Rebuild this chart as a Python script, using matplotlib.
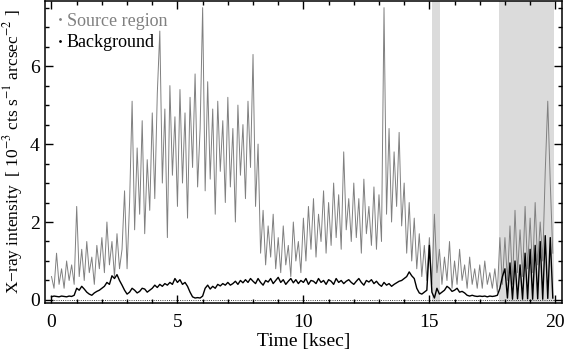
import numpy as np
import matplotlib
matplotlib.use("Agg")
import matplotlib.pyplot as plt
from matplotlib.lines import Line2D
from matplotlib.ticker import MultipleLocator

plt.rcParams['font.family'] = ['Liberation Serif', 'DejaVu Serif']
plt.rcParams['mathtext.fontset'] = 'stix'

# light curve, 0.1 ksec bins, one row per ksec
t_start = 0.0
t_bin = 0.1
source = [
    0.6, 0.3, 1.2, 0.4, 0.8, 0.3, 1.0, 0.5, 0.9, 0.4,
    2.4, 0.6, 1.3, 0.5, 1.5, 0.7, 1.1, 0.4, 1.4, 0.8,
    1.6, 0.7, 2.0, 0.9, 1.5, 0.6, 1.7, 0.8, 1.3, 2.8,
    0.8, 2.5, 5.1, 1.8, 3.9, 2.2, 4.6, 1.7, 3.6, 2.3,
    4.8, 2.6, 5.3, 6.9, 3.0, 4.9, 1.6, 5.5, 3.2, 4.7,
    2.4, 5.4, 3.0, 4.8, 2.1, 5.2, 3.4, 5.8, 2.9, 4.4,
    7.5, 2.8, 5.6, 3.1, 4.9, 2.2, 5.1, 3.3, 4.6, 2.5,
    5.2, 2.9, 4.4, 2.0, 5.0, 3.2, 4.5, 2.6, 5.1, 3.4,
    6.3, 2.4, 4.0, 1.2, 2.3, 0.9, 1.9, 1.1, 2.2, 0.8,
    1.6, 0.7, 1.9, 0.9, 1.4, 0.6, 2.0, 1.0, 1.5, 0.7,
    2.1, 1.0, 2.4, 1.3, 2.6, 1.1, 2.2, 1.5, 2.8, 1.2,
    2.5, 1.4, 3.0, 1.6, 2.7, 1.3, 3.8, 1.8, 2.6, 1.5,
    3.0, 1.6, 2.6, 1.2, 3.1, 1.7, 2.4, 1.4, 2.9, 1.3,
    2.7, 1.5, 7.5, 2.2, 4.4, 2.0, 3.8, 2.4, 4.3, 1.9,
    3.0, 1.2, 2.5, 1.0, 2.1, 0.8, 1.7, 0.6, 1.4, 0.5,
    1.6, 0.4, 2.2, 0.7, 1.3, 0.4, 1.1, 0.5, 1.5, 0.3,
    1.0, 0.4, 1.3, 0.5, 0.9, 0.3, 1.1, 0.4, 0.8, 0.3,
    0.9, 0.3, 1.0, 0.4, 0.7, 0.3, 0.8, 0.2, 1.6, 0.4,
    1.6, 0.5, 1.9, 0.4, 2.3, 0.7, 1.8, 0.6, 2.4, 0.8,
    2.1, 0.7, 2.5, 0.9, 2.0, 1.0, 3.3, 5.1, 3.0, 1.2,
]
background = [
    0.08, 0.10, 0.09, 0.08, 0.10, 0.09, 0.08, 0.10, 0.09, 0.12,
    0.30, 0.25, 0.35, 0.28, 0.20, 0.15, 0.12, 0.18, 0.22, 0.25,
    0.30, 0.35, 0.45, 0.40, 0.62, 0.55, 0.65, 0.50, 0.38, 0.25,
    0.15, 0.20, 0.30, 0.25, 0.18, 0.22, 0.30, 0.28, 0.20, 0.25,
    0.30, 0.38, 0.32, 0.40, 0.35, 0.42, 0.38, 0.45, 0.40, 0.55,
    0.45, 0.52, 0.40, 0.45, 0.35, 0.20, 0.08, 0.05, 0.06, 0.05,
    0.10, 0.30, 0.38, 0.28, 0.35, 0.30, 0.40, 0.36, 0.42, 0.38,
    0.45, 0.38, 0.42, 0.48, 0.40, 0.50, 0.44, 0.52, 0.45, 0.55,
    0.48, 0.42, 0.55, 0.45, 0.38, 0.50, 0.46, 0.55, 0.42, 0.50,
    0.58, 0.45, 0.52, 0.40, 0.48, 0.55, 0.44, 0.52, 0.42, 0.50,
    0.45, 0.55, 0.40, 0.50, 0.48, 0.42, 0.55, 0.45, 0.50, 0.40,
    0.52, 0.48, 0.40, 0.55, 0.45, 0.50, 0.42, 0.48, 0.52, 0.45,
    0.40, 0.48, 0.55, 0.45, 0.38, 0.50, 0.46, 0.52, 0.42, 0.48,
    0.40, 0.35, 0.45, 0.38, 0.42, 0.35, 0.40, 0.44, 0.48, 0.50,
    0.55, 0.60, 0.72, 0.62, 0.55, 0.30, 0.18, 0.15, 0.20, 0.25,
    1.40, 0.20, 0.05, 0.30, 0.15, 0.20, 0.25, 0.35, 0.30, 0.22,
    0.25, 0.30, 0.20, 0.22, 0.18, 0.12, 0.10, 0.12, 0.10, 0.09,
    0.10, 0.09, 0.10, 0.08, 0.10, 0.09, 0.10, 0.12, 0.30, 0.60,
    0.80, 0.05, 0.95, 0.02, 1.00, 0.03, 0.90, 0.02, 1.20, 0.03,
    1.30, 0.02, 1.40, 0.03, 1.50, 0.02, 1.65, 0.04, 1.60, 0.05,
]
# excluded (flagged) intervals, ksec
bad_intervals = [(15.12, 15.44), (17.78, 19.96)]

time = t_start + t_bin * np.arange(len(source))

fig = plt.figure(figsize=(5.65, 3.52), dpi=100)
ax = fig.add_axes([0.08, 0.139, 0.914, 0.858])

for lo, hi in bad_intervals:
    ax.axvspan(lo, hi, color='0.86', lw=0, zorder=0)

ax.axhline(0, color='black', ls=':', lw=0.6, zorder=1)
ax.plot(time, source, color='0.5', lw=0.7, zorder=2)
ax.plot(time, background, color='black', lw=1.0, zorder=3)

ax.set_xlim(-0.25, 20.25)
ax.set_ylim(-0.08, 7.67)
ax.xaxis.set_major_locator(MultipleLocator(5))
ax.xaxis.set_minor_locator(MultipleLocator(1))
ax.yaxis.set_major_locator(MultipleLocator(2))
ax.yaxis.set_minor_locator(MultipleLocator(0.5))
ax.tick_params(which='both', direction='in', top=True, right=True, width=1.0)
ax.tick_params(which='major', length=6, labelsize=14)
ax.tick_params(axis='x', which='major', pad=8)
ax.tick_params(axis='y', which='major', pad=4)
ax.tick_params(which='minor', length=3)
for s in ax.spines.values():
    s.set_linewidth(1.1)

ax.set_xlabel('Time [ksec]', fontsize=14, labelpad=1)
ax.set_ylabel('X\u2212ray intensity  [ 10$^{-3}$ cts s$^{-1}$ arcsec$^{-2}$ ]',
              fontsize=12.5)
ax.yaxis.set_label_coords(-0.04, 0.5)

handles = [
    Line2D([], [], ls='none', marker='.', ms=2, color='0.5', label='Source region'),
    Line2D([], [], ls='none', marker='.', ms=2, color='black', label='Background'),
]
ax.legend(handles=handles, loc='upper left', frameon=False, fontsize=13,
          handlelength=0.3, handletextpad=0.25, labelspacing=0.25,
          borderaxespad=0.25, labelcolor=['0.5', 'black'])

fig.savefig('out.png', dpi=100)
